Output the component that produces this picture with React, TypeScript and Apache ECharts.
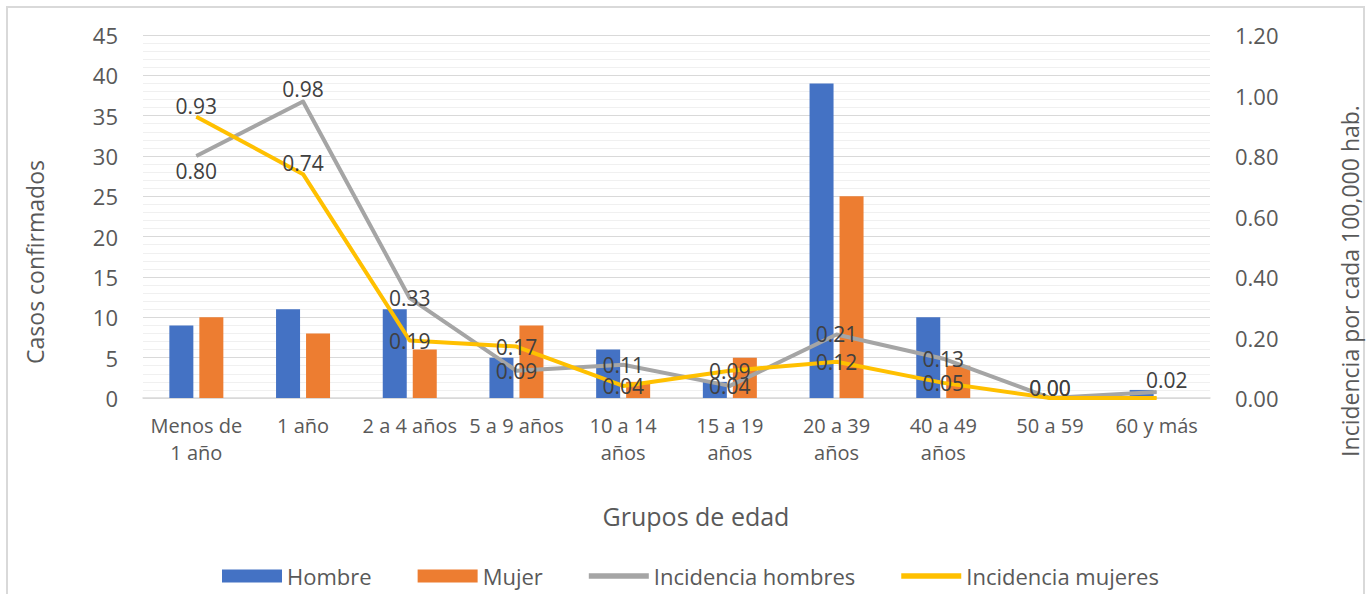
import React, { useEffect, useRef } from "react";
import * as echarts from "echarts";

const categories = [
  "Menos de 1 año",
  "1 año",
  "2 a 4 años",
  "5 a 9 años",
  "10 a 14 años",
  "15 a 19 años",
  "20 a 39 años",
  "40 a 49 años",
  "50 a 59",
  "60 y más",
];
const hombre = [9, 11, 11, 5, 6, 2, 39, 10, 0, 1];
const mujer = [10, 8, 6, 9, 2, 5, 25, 4, 0, 0];
const incHombres = [0.8, 0.98, 0.33, 0.09, 0.11, 0.04, 0.21, 0.13, 0.0, 0.02];
const incMujeres = [0.93, 0.74, 0.19, 0.17, 0.04, 0.09, 0.12, 0.05, 0.0, 0.0];
const leftTicks = { min: 0, max: 45, interval: 5 };
const rightTicks = { min: 0, max: 1.2, interval: 0.2 };
const xTitle = "Grupos de edad";
const leftTitle = "Casos confirmados";
const rightTitle = "Incidencia por cada 100,000 hab.";

const FONT = "'Open Sans', Lato, sans-serif";
const TXT = "#595959";
const LBL = "#404040";

function wrap(s: string): string {
  if (s.length <= 10) return s;
  const words = s.split(" ");
  const lines: string[] = [];
  let cur = "";
  for (const w of words) {
    const t = cur ? cur + " " + w : w;
    if (t.length > 8 && cur) {
      lines.push(cur);
      cur = w;
    } else cur = t;
  }
  if (cur) lines.push(cur);
  return lines.join("\n");
}

function lineData(vals: number[], special: Record<number, any>) {
  return vals.map((v, i) => {
    const s = special[i];
    if (s === undefined) return v;
    return { value: v, label: s };
  });
}

const LINE_ICON = "path://M0,0H56V5H0Z";

export default function App() {
  const ref = useRef<HTMLDivElement>(null);
  useEffect(() => {
    if (!ref.current) return;
    const chart = echarts.init(ref.current, undefined, { renderer: "svg" });
    const labelBase = {
      show: true,
      position: "inside",
      color: LBL,
      fontSize: 21,
      fontFamily: FONT,
      formatter: (p: any) => Number(p.value).toFixed(2),
    };
    const titleStyle = { fill: TXT, fontFamily: FONT, align: "center", verticalAlign: "middle" };
    chart.setOption({
      animation: false,
      backgroundColor: "#fff",
      textStyle: { fontFamily: FONT },
      grid: { left: 143, right: 158, top: 35, bottom: 196 },
      graphic: [
        {
          type: "rect",
          shape: { x: 7, y: 7, width: 1357, height: 600 },
          style: { fill: "none", stroke: "#D9D9D9", lineWidth: 2 },
          silent: true,
        },
        {
          type: "text",
          x: 35,
          y: 262,
          rotation: Math.PI / 2,
          style: { ...titleStyle, text: leftTitle, fontSize: 23 },
        },
        {
          type: "text",
          x: 1350,
          y: 281,
          rotation: Math.PI / 2,
          style: { ...titleStyle, text: rightTitle, fontSize: 23 },
        },
        {
          type: "text",
          x: 696,
          y: 516,
          style: { ...titleStyle, text: xTitle, fontSize: 25 },
        },
      ],
      legend: {
        bottom: 2,
        left: 217,
        itemWidth: 60,
        itemHeight: 13,
        itemGap: 46,
        symbolKeepAspect: true,
        textStyle: { color: TXT, fontSize: 22, fontFamily: FONT },
        data: [
          { name: "Hombre", icon: "rect" },
          { name: "Mujer", icon: "rect" },
          { name: "Incidencia hombres", icon: LINE_ICON },
          { name: "Incidencia mujeres", icon: LINE_ICON },
        ],
      },
      xAxis: {
        type: "category",
        data: categories,
        axisLine: { lineStyle: { color: "#D9D9D9", width: 1.5 } },
        axisTick: { show: false },
        axisLabel: {
          color: TXT,
          fontSize: 20,
          fontFamily: FONT,
          interval: 0,
          margin: 14,
          lineHeight: 27,
          formatter: (v: string) => wrap(v),
        },
      },
      yAxis: [
        {
          type: "value",
          ...leftTicks,
          axisLine: { show: false },
          axisTick: { show: false },
          axisLabel: { color: TXT, fontSize: 22, fontFamily: FONT, margin: 25 },
          splitLine: { lineStyle: { color: "#D9D9D9", width: 1 } },
          minorTick: { show: false, splitNumber: 5 },
          minorSplitLine: { show: true, lineStyle: { color: "#F0F0F0", width: 1 } },
        },
        {
          type: "value",
          ...rightTicks,
          axisLine: { show: false },
          axisTick: { show: false },
          axisLabel: {
            color: TXT,
            fontSize: 22,
            fontFamily: FONT,
            margin: 25,
            formatter: (v: number) => v.toFixed(2),
          },
          splitLine: { show: false },
        },
      ],
      series: [
        {
          name: "Hombre",
          type: "bar",
          data: hombre,
          barWidth: 24,
          barGap: "25%",
          itemStyle: { color: "#4472C4" },
        },
        {
          name: "Mujer",
          type: "bar",
          data: mujer,
          barWidth: 24,
          barGap: "25%",
          itemStyle: { color: "#ED7D31" },
        },
        {
          name: "Incidencia hombres",
          type: "line",
          yAxisIndex: 1,
          data: lineData(incHombres, {
            0: { position: "bottom", distance: 4 },
            1: { position: "top", distance: 2 },
            8: { position: "inside", offset: [0, -10] },
            9: { position: "inside", offset: [10, -12] },
          }),
          symbol: "circle",
          symbolSize: 1,
          lineStyle: { color: "#A5A5A5", width: 4, join: "round" },
          itemStyle: { color: "#A5A5A5" },
          label: labelBase,
          z: 3,
        },
        {
          name: "Incidencia mujeres",
          type: "line",
          yAxisIndex: 1,
          data: lineData(incMujeres, {
            0: { position: "top", distance: 0 },
            1: { position: "top", distance: 0 },
            8: { position: "inside", offset: [0, -10] },
            9: { show: false },
          }),
          symbol: "circle",
          symbolSize: 1,
          lineStyle: { color: "#FFC000", width: 4, join: "round" },
          itemStyle: { color: "#FFC000" },
          label: labelBase,
          z: 4,
        },
      ],
    });
    return () => chart.dispose();
  }, []);
  return (
    <div
      ref={ref}
      style={{ position: "fixed", left: 0, top: 0, width: 1368, height: 594 }}
    />
  );
}
